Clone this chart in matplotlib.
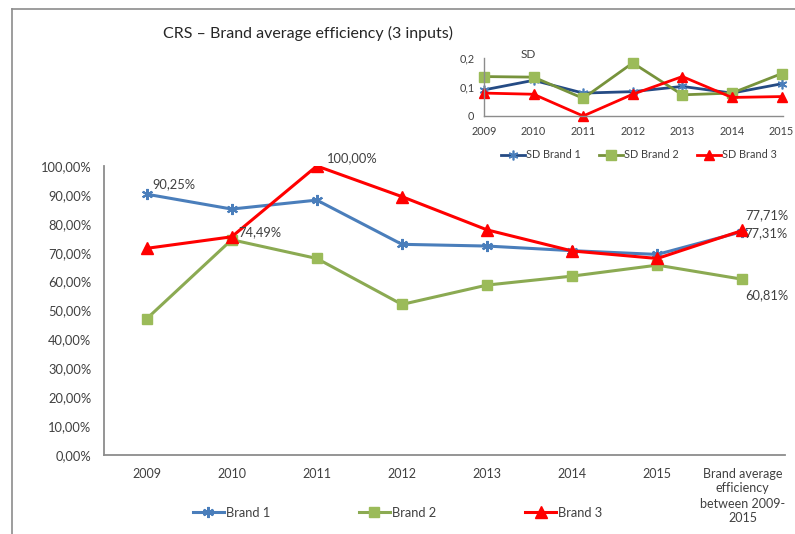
import matplotlib
matplotlib.use("Agg")
import matplotlib.pyplot as plt
from matplotlib.lines import Line2D
from matplotlib.ticker import FuncFormatter, MultipleLocator

plt.rcParams['font.family'] = ['Lato', 'DejaVu Sans']

# ---- data ----
categories = ["2009", "2010", "2011", "2012", "2013", "2014", "2015",
              "Brand average\nefficiency\nbetween 2009-\n2015"]
brand1 = [0.9025, 0.851, 0.882, 0.729, 0.723, 0.707, 0.694, 0.7731]
brand2 = [0.471, 0.7449, 0.680, 0.521, 0.588, 0.619, 0.657, 0.6081]
brand3 = [0.715, 0.755, 1.000, 0.894, 0.779, 0.706, 0.680, 0.7771]

sd_years = ["2009", "2010", "2011", "2012", "2013", "2014", "2015"]
sd_brand1 = [0.090, 0.123, 0.079, 0.084, 0.102, 0.079, 0.111]
sd_brand2 = [0.136, 0.134, 0.061, 0.183, 0.073, 0.079, 0.146]
sd_brand3 = [0.079, 0.075, 0.000, 0.075, 0.136, 0.064, 0.067]

# ---- styling ----
C_B1 = "#4A7EBB"
C_B2_LINE = "#8BAA52"
C_B2_MARK = "#9BBB59"
C_B3 = "#FF0000"
C_SD1_LINE = "#254B84"
C_SD2_LINE = "#77933C"
AXIS_GRAY = "#8C8C8C"
TXT = "#404040"

W, H = 795, 534
fig = plt.figure(figsize=(W / 100, H / 100), dpi=100)
fig.patch.set_facecolor("white")

def fx(px):
    return px / W

def fy(py):
    return 1 - py / H

# outer chart frame
fig.add_artist(Line2D([fx(12), fx(795)], [fy(9), fy(9)], color=AXIS_GRAY, lw=1.2))
fig.add_artist(Line2D([fx(12), fx(12)], [fy(9), fy(534)], color=AXIS_GRAY, lw=1.2))

fig.text(fx(163), fy(33), "CRS – Brand average efficiency (3 inputs)",
         fontsize=11.5, color="#262626", ha="left", va="center")

# ---- main chart ----
ax = fig.add_axes([fx(104), fy(455), fx(785) - fx(104), fy(166) - fy(455)])
x = list(range(len(categories)))
l1, = ax.plot(x, brand1, color=C_B1, lw=2.2, marker=(6, 2, 0), ms=8,
              mec=C_B1, mew=1.5, label="Brand 1")
l2, = ax.plot(x, brand2, color=C_B2_LINE, lw=2.2, marker="s", ms=7.5,
              mfc=C_B2_MARK, mec=C_B2_MARK, label="Brand 2")
l3, = ax.plot(x, brand3, color=C_B3, lw=2.2, marker="^", ms=8,
              mfc=C_B3, mec=C_B3, label="Brand 3")

ax.set_xlim(-0.5, len(categories) - 0.5)
ax.set_ylim(0, 1.0)
ax.yaxis.set_major_locator(MultipleLocator(0.1))
ax.yaxis.set_major_formatter(FuncFormatter(lambda v, p: f"{v * 100:.2f}%".replace(".", ",")))
ax.set_xticks(x)
ax.set_xticklabels(categories, linespacing=1.3)
ax.tick_params(axis="both", length=0, labelsize=9, colors=TXT)
ax.tick_params(axis="y", pad=9, labelsize=9.3)
ax.tick_params(axis="x", pad=9)
for lbl in ax.get_xticklabels():
    lbl.set_va("top")
for s in ("top", "right"):
    ax.spines[s].set_visible(False)
for s in ("left", "bottom"):
    ax.spines[s].set_color(AXIS_GRAY)
    ax.spines[s].set_linewidth(1.3)
ax.set_facecolor("none")

def pct(v):
    return f"{v * 100:.2f}%".replace(".", ",")

lab_kw = dict(fontsize=9.3, color=TXT, textcoords="offset points")
ax.annotate(pct(brand1[0]), (0, brand1[0]), xytext=(4, 3), ha="left", va="bottom", **lab_kw)
ax.annotate(pct(brand2[1]), (1, brand2[1]), xytext=(5, 1), ha="left", va="bottom", **lab_kw)
ax.annotate(pct(brand3[2]), (2, brand3[2]), xytext=(7, 1), ha="left", va="bottom", **lab_kw)
ax.annotate(pct(brand3[7]), (7, brand3[7]), xytext=(2, 7), ha="left", va="bottom", **lab_kw)
ax.annotate(pct(brand1[7]), (7, brand1[7]), xytext=(1, -1), ha="left", va="center", **lab_kw)
ax.annotate(pct(brand2[7]), (7, brand2[7]), xytext=(2, -7), ha="left", va="top", **lab_kw)

fig.legend(handles=[l1, l2, l3], loc="center left",
           bbox_to_anchor=(fx(181), fy(513)), ncol=3, frameon=False,
           fontsize=9.3, handlelength=2.4, handletextpad=0.15,
           columnspacing=6.9, labelcolor=TXT)

# ---- SD inset ----
ai = fig.add_axes([fx(484), fy(116), fx(783) - fx(484), fy(58) - fy(116)])
xs = list(range(len(sd_years)))
s1, = ai.plot(xs, sd_brand1, color=C_SD1_LINE, lw=2, marker=(6, 2, 0), ms=7,
              mec=C_B1, mew=1.2, label="SD Brand 1")
s2, = ai.plot(xs, sd_brand2, color=C_SD2_LINE, lw=2, marker="s", ms=7,
              mfc=C_B2_MARK, mec=C_B2_MARK, label="SD Brand 2")
s3, = ai.plot(xs, sd_brand3, color=C_B3, lw=2, marker="^", ms=7,
              mfc=C_B3, mec=C_B3, label="SD Brand 3")
ai.set_xlim(0, len(sd_years) - 1 + 0.03)
ai.set_ylim(0, 0.2)
ai.set_yticks([0, 0.1, 0.2])
ai.set_yticklabels(["0", "0,1", "0,2"])
ai.set_xticks(xs)
ai.set_xticklabels(sd_years)
ai.tick_params(axis="both", length=0, labelsize=7.8, colors=TXT, pad=7)
for s in ("top", "right"):
    ai.spines[s].set_visible(False)
for s in ("left", "bottom"):
    ai.spines[s].set_color(AXIS_GRAY)
    ai.spines[s].set_linewidth(1.0)
ai.set_facecolor("none")
for ln in ai.lines:
    ln.set_clip_on(False)

fig.text(fx(528), fy(55), "SD", fontsize=8.5, color=TXT, ha="center", va="center")

fig.legend(handles=[s1, s2, s3], loc="center left",
           bbox_to_anchor=(fx(491), fy(155)), ncol=3, frameon=False,
           fontsize=7.8, handlelength=2.2, handletextpad=0.1,
           columnspacing=1.7, labelcolor=TXT)

fig.savefig("out.png", dpi=100, facecolor="white")
